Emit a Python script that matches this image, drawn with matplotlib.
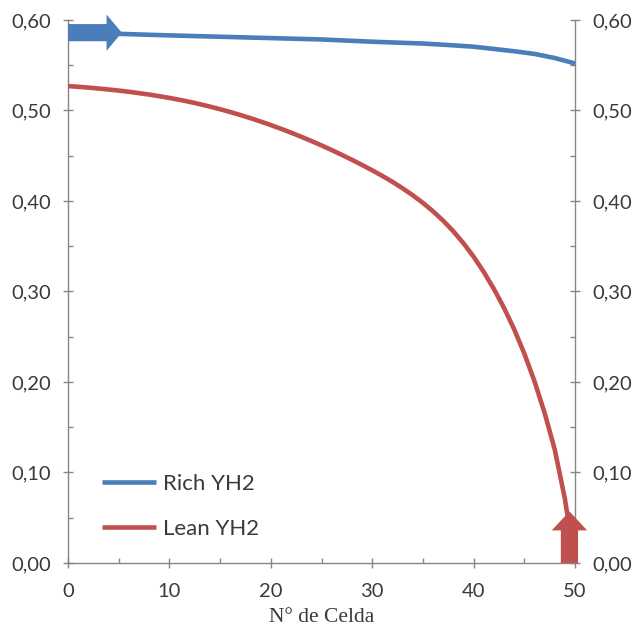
import matplotlib
matplotlib.use("Agg")
import matplotlib.pyplot as plt
from matplotlib.patches import FancyArrow
from matplotlib.ticker import MultipleLocator

# --- data ---
rich_x = [0, 5, 10, 15, 20, 25, 28, 30, 35, 38, 40, 42, 44, 46, 48, 50]
rich_y = [0.586, 0.5847, 0.583, 0.5815, 0.580, 0.5785, 0.577, 0.576, 0.574,
          0.572, 0.5705, 0.568, 0.5655, 0.5625, 0.558, 0.552]

lean_x = list(range(0, 51))
lean_y = [0.5270, 0.5262, 0.5253, 0.5243, 0.5232, 0.5220, 0.5207, 0.5192,
          0.5176, 0.5158, 0.5139, 0.5118, 0.5095, 0.5070, 0.5043, 0.5014,
          0.4983, 0.4950, 0.4915, 0.4878, 0.4839, 0.4798, 0.4755, 0.4710,
          0.4663, 0.4614, 0.4563, 0.4510, 0.4455, 0.4398, 0.4339, 0.4277,
          0.4211, 0.4140, 0.4063, 0.3979, 0.3886, 0.3782, 0.3665, 0.3533,
          0.3384, 0.3216, 0.3028, 0.2818, 0.2582, 0.2314, 0.2009, 0.1659,
          0.1254, 0.0710, 0.0]

x_ticks = [0, 10, 20, 30, 40, 50]
y_ticks = [0.0, 0.1, 0.2, 0.3, 0.4, 0.5, 0.6]
y_labels = ["0,00", "0,10", "0,20", "0,30", "0,40", "0,50", "0,60"]
series_names = ["Rich YH2", "Lean YH2"]
x_title = "N° de Celda"

BLUE = "#4a7ebb"
RED = "#c0504d"
GREY = "#868686"
TXT = "#3a3a3a"

fig = plt.figure(figsize=(6.37, 6.27), dpi=100)
ax = fig.add_axes([0.1068, 0.1021, 0.7959, 0.866])

ax.plot(rich_x, rich_y, color=BLUE, lw=3.3, label=series_names[0], zorder=3,
        solid_capstyle="butt")
ax.plot(lean_x, lean_y, color=RED, lw=3.3, label=series_names[1], zorder=3,
        solid_capstyle="butt")

# arrows marking feed entry points
ax.add_patch(FancyArrow(0, 0.586, 5.3, 0, width=0.019, head_width=0.040,
                        head_length=1.5, length_includes_head=True,
                        color=BLUE, lw=0, clip_on=False, zorder=6))
ax.add_patch(FancyArrow(49.45, 0, 0, 0.057, width=1.7, head_width=3.5,
                        head_length=0.021, length_includes_head=True,
                        color=RED, lw=0, clip_on=False, zorder=6))

ax.set_xlim(0, 50)
ax.set_ylim(0, 0.6)
ax.set_xticks(x_ticks)
ax.set_xticklabels([str(t) for t in x_ticks])
ax.set_yticks(y_ticks)
ax.set_yticklabels(y_labels)
ax.xaxis.set_minor_locator(MultipleLocator(5))
ax.yaxis.set_minor_locator(MultipleLocator(0.05))

ax.spines["top"].set_visible(False)
for s in ["left", "right", "bottom"]:
    ax.spines[s].set_color(GREY)
    ax.spines[s].set_linewidth(1.0)

ax.tick_params(which="major", direction="inout", length=7, width=1.0,
               color=GREY, labelcolor=TXT, labelsize=14.5,
               left=True, right=True, labelleft=True, labelright=True)
ax.tick_params(which="minor", direction="in", length=3.5, width=1.0,
               color=GREY, left=True, right=True)
ax.tick_params(axis="y", which="major", pad=9)
ax.tick_params(axis="x", which="major", pad=11)
for lab in ax.get_xticklabels() + ax.get_yticklabels():
    lab.set_fontfamily("Lato")

ax.set_xlabel(x_title, family="Liberation Serif", fontsize=15.5, color=TXT,
              labelpad=6)

leg = ax.legend(loc="lower left", bbox_to_anchor=(0.067, 0.045), frameon=False,
                prop={"family": "Lato", "size": 16}, handlelength=2.45,
                handletextpad=0.3, labelspacing=1.1, borderpad=0,
                borderaxespad=0)
for t in leg.get_texts():
    t.set_color(TXT)

fig.savefig("out.png", dpi=100)
